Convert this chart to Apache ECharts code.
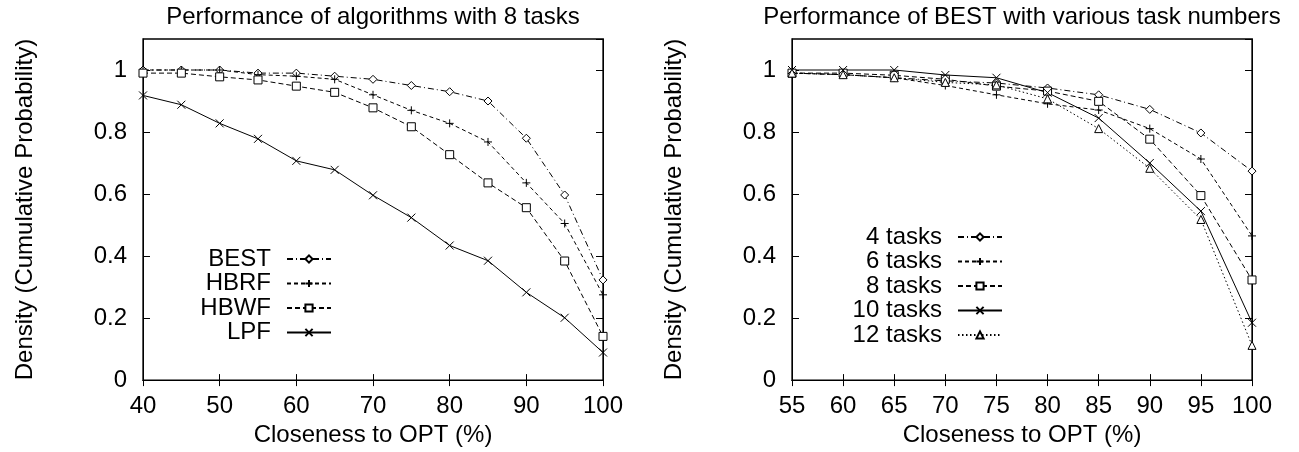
<!DOCTYPE html>
<html><head><meta charset="utf-8">
<script src="https://cdn.jsdelivr.net/npm/echarts@6/dist/echarts.min.js"></script>
<style>html,body{margin:0;padding:0;background:#fff}#c{width:1299px;height:452px}</style>
</head><body><div id="c"></div>
<script>
// ---- data ----
const leftTitle = 'Performance of algorithms with 8 tasks';
const rightTitle = 'Performance of BEST with various task numbers';
const xName = 'Closeness to OPT (%)';
const yName = 'Density (Cumulative Probability)';

const leftX = [40, 45, 50, 55, 60, 65, 70, 75, 80, 85, 90, 95, 100];
const leftNames = ['BEST', 'HBRF', 'HBWF', 'LPF'];
const bestVals = [1.0, 1.0, 1.0, 0.99, 0.99, 0.98, 0.97, 0.95, 0.93, 0.90, 0.78, 0.597, 0.323];
const hbrfVals = [1.0, 1.0, 1.0, 0.985, 0.98, 0.97, 0.92, 0.87, 0.828, 0.768, 0.636, 0.505, 0.275];
const hbwfVals = [0.99, 0.99, 0.978, 0.968, 0.948, 0.928, 0.878, 0.817, 0.727, 0.636, 0.556, 0.384, 0.141];
const lpfVals  = [0.918, 0.888, 0.828, 0.778, 0.707, 0.678, 0.596, 0.524, 0.434, 0.385, 0.283, 0.201, 0.089];

const rightX = [55, 60, 65, 70, 75, 80, 85, 90, 95, 100];
const rightNames = ['4 tasks', '6 tasks', '8 tasks', '10 tasks', '12 tasks'];
const t4Vals  = [0.99, 0.985, 0.975, 0.965, 0.958, 0.942, 0.92, 0.873, 0.797, 0.674];
const t6Vals  = [0.99, 0.985, 0.975, 0.95, 0.92, 0.891, 0.871, 0.811, 0.713, 0.465];
const t8Vals  = [0.99, 0.99, 0.983, 0.97, 0.948, 0.932, 0.899, 0.777, 0.595, 0.323];
const t10Vals = [1.0, 1.0, 1.0, 0.984, 0.975, 0.927, 0.845, 0.70, 0.545, 0.185];
const t12Vals = [0.99, 0.985, 0.975, 0.96, 0.952, 0.907, 0.811, 0.683, 0.518, 0.112];

const yTicks = [0, 0.2, 0.4, 0.6, 0.8, 1];

// ---- styling ----
const FONT = "'Liberation Sans', Arial, Helvetica, sans-serif";
const FS = 24;
const PLUS = 'path://M5,0L5,10M0,5L10,5';
const CROSS = 'path://M0,0L10,10M10,0L0,10';
const DASHDOT = [6, 3, 1, 3];
const DASH = [4, 3];
const DASH2 = [5, 3];
const DOT = [1.5, 2.5];

function pairs(xs, ys) { return xs.map((x, i) => [x, ys[i]]); }
function ser(name, xs, ys, symbol, dash, axis) {
  return {
    type: 'line', name: name, data: pairs(xs, ys),
    xAxisIndex: axis, yAxisIndex: axis,
    symbol: symbol, symbolSize: 8, showAllSymbol: true,
    lineStyle: { color: '#000', width: 1, type: dash },
    itemStyle: { color: '#fff', borderColor: '#000', borderWidth: 1 },
    emphasis: { disabled: true }, animation: false, z: 3
  };
}

const grids = [
  { left: 143, top: 36, width: 460, bottom: 66, show: true, borderColor: '#000', borderWidth: 1.3, backgroundColor: 'transparent' },
  { left: 792, top: 36, width: 460, bottom: 66, show: true, borderColor: '#000', borderWidth: 1.3, backgroundColor: 'transparent' }
];

function xAx(grid, min, max, interval, top, title) {
  return {
    type: 'value', gridIndex: grid, min: min, max: max, interval: interval,
    position: top ? 'top' : 'bottom',
    name: top ? title : xName, nameLocation: 'middle', nameGap: top ? 10 : 38,
    nameTextStyle: { fontFamily: FONT, fontSize: FS, color: '#000' },
    axisLine: { show: true, lineStyle: { color: '#000', width: 1 } },
    axisTick: { show: true, inside: true, length: 6, lineStyle: { color: '#000' } },
    axisLabel: { show: !top, margin: 14, fontFamily: FONT, fontSize: FS, color: '#000' },
    splitLine: { show: false }
  };
}
function yAx(grid, right) {
  return {
    type: 'value', gridIndex: grid, min: 0, max: 1.1, interval: 0.2,
    position: right ? 'right' : 'left',
    name: right ? '' : yName, nameLocation: 'middle', nameGap: 106, nameRotate: 90,
    nameTextStyle: { fontFamily: FONT, fontSize: FS, color: '#000' },
    axisLine: { show: true, lineStyle: { color: '#000', width: 1 } },
    axisTick: { show: true, inside: true, length: 7, lineStyle: { color: '#000' } },
    axisLabel: { show: !right, margin: 16, showMaxLabel: false, fontFamily: FONT, fontSize: FS, color: '#000',
      formatter: v => (yTicks.some(t => Math.abs(t - v) < 1e-9) ? String(+v.toFixed(1)) : '') },
    splitLine: { show: false }
  };
}

function legend(names, right, top, w) {
  return {
    data: names, orient: 'vertical', right: right, top: top, align: 'right', padding: 0,
    itemWidth: 44, itemHeight: 9, itemGap: 0.5, selectedMode: false,
    textStyle: { fontFamily: FONT, fontSize: FS, color: '#000', lineHeight: 24, width: w, align: 'right', padding: [0, 11, 0, 0] },
    backgroundColor: 'transparent'
  };
}

const option = {
  animation: false,
  backgroundColor: '#fff',
  grid: grids,
  xAxis: [
    xAx(0, 40, 100, 10, false), xAx(0, 40, 100, 10, true, leftTitle),
    xAx(1, 55, 100, 5, false), xAx(1, 55, 100, 5, true, rightTitle)
  ],
  yAxis: [yAx(0, false), yAx(0, true), yAx(1, false), yAx(1, true)],
  legend: [legend(leftNames, 1299 - 332, 247, 72), legend(rightNames, 1299 - 1003, 225, 104)],
  series: [
    ser('BEST', leftX, bestVals, 'diamond', DASHDOT, 0),
    ser('HBRF', leftX, hbrfVals, PLUS, DASH, 0),
    ser('HBWF', leftX, hbwfVals, 'rect', DASH2, 0),
    ser('LPF', leftX, lpfVals, CROSS, 'solid', 0),
    ser('4 tasks', rightX, t4Vals, 'diamond', DASHDOT, 2),
    ser('6 tasks', rightX, t6Vals, PLUS, DASH, 2),
    ser('8 tasks', rightX, t8Vals, 'rect', DASH2, 2),
    ser('10 tasks', rightX, t10Vals, CROSS, 'solid', 2),
    ser('12 tasks', rightX, t12Vals, 'triangle', DOT, 2)
  ]
};
const chart = echarts.init(document.getElementById('c'), null, { renderer: 'canvas' });
chart.setOption(option);
</script>
</body></html>
